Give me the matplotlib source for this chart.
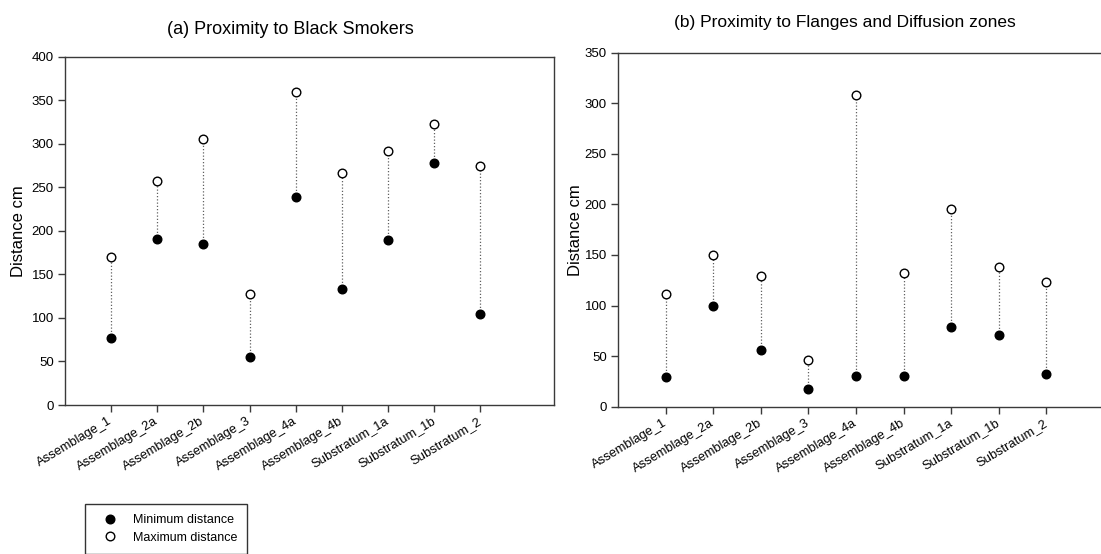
import matplotlib
matplotlib.use("Agg")
import matplotlib.pyplot as plt
import numpy as np

plt.rcParams['font.family'] = ['Liberation Sans', 'DejaVu Sans']

categories = ["Assemblage_1", "Assemblage_2a", "Assemblage_2b", "Assemblage_3",
              "Assemblage_4a", "Assemblage_4b", "Substratum_1a", "Substratum_1b",
              "Substratum_2"]

smokers_min = [77, 190.5, 185, 55, 238.5, 133, 189.5, 278, 104]
smokers_max = [170.5, 257, 306, 127, 359.5, 267, 292, 323, 274]

flanges_min = [29.7, 100, 55.7, 17.5, 30, 30.3, 78.5, 71, 32]
flanges_max = [111.4, 150.3, 129, 46.5, 308, 132, 195, 138.5, 123.3]

title_a = "(a) Proximity to Black Smokers"
title_b = "(b) Proximity to Flanges and Diffusion zones"
ylabel = "Distance cm"

W, H = 1101, 554
fig = plt.figure(figsize=(W / 100, H / 100), dpi=100)

def px_axes(left, top, right, bottom):
    return fig.add_axes([left / W, 1 - bottom / H, (right - left) / W, (bottom - top) / H])

ax1 = px_axes(65, 56.7, 554, 405)
ax2 = px_axes(618, 52.7, 1122.6, 406.7)

x = np.arange(1, len(categories) + 1)
spine_color = '#3a3a3a'

def draw(ax, mins, maxs, ymax, yticks, show_right):
    ax.vlines(x, mins, maxs, colors='#606060', linestyles=(0, (1, 1.6)), linewidth=0.9, zorder=1)
    ax.plot(x, mins, linestyle='none', marker='o', markersize=6.2, markerfacecolor='black',
            markeredgecolor='black', label='Minimum distance', zorder=3)
    ax.plot(x, maxs, linestyle='none', marker='o', markersize=6.2, markerfacecolor='white',
            markeredgecolor='black', markeredgewidth=1.0, label='Maximum distance', zorder=3)
    ax.set_xlim(0, 10.6)
    ax.set_ylim(0, ymax)
    ax.set_yticks(yticks)
    ax.set_xticks(x)
    ax.set_xticklabels(categories, rotation=31, ha='right', va='center', rotation_mode='anchor',
                       fontsize=9.3)
    ax.tick_params(axis='y', direction='out', length=5, width=1, color=spine_color,
                   labelsize=9.5, pad=3)
    ax.tick_params(axis='x', direction='out', length=5, width=1, color=spine_color, pad=6)
    for s in ['left', 'bottom', 'top', 'right']:
        ax.spines[s].set_color(spine_color)
        ax.spines[s].set_linewidth(1.0)
    ax.spines['right'].set_visible(show_right)
    ax.set_ylabel(ylabel, fontsize=12, va='center')

draw(ax1, smokers_min, smokers_max, 400, np.arange(0, 401, 50), True)
draw(ax2, flanges_min, flanges_max, 350, np.arange(0, 351, 50), False)
ax1.yaxis.set_label_coords(-0.096, 0.5)
ax2.yaxis.set_label_coords(-0.085, 0.5)

fig.text(290 / W, 1 - 29 / H, title_a, ha='center', va='center', fontsize=13)
fig.text(845 / W, 1 - 23 / H, title_b, ha='center', va='center', fontsize=12.5)

handles, labels = ax1.get_legend_handles_labels()
leg = fig.legend(handles, labels, loc='upper left', bbox_to_anchor=(85 / W, 1 - 504 / H),
                 borderaxespad=0, fontsize=9, frameon=True, fancybox=False,
                 borderpad=0.8, handlelength=2.4, handletextpad=0.64, labelspacing=0.45)
leg.get_frame().set_edgecolor('black')
leg.get_frame().set_linewidth(1.0)

fig.savefig("out.png", dpi=100)
